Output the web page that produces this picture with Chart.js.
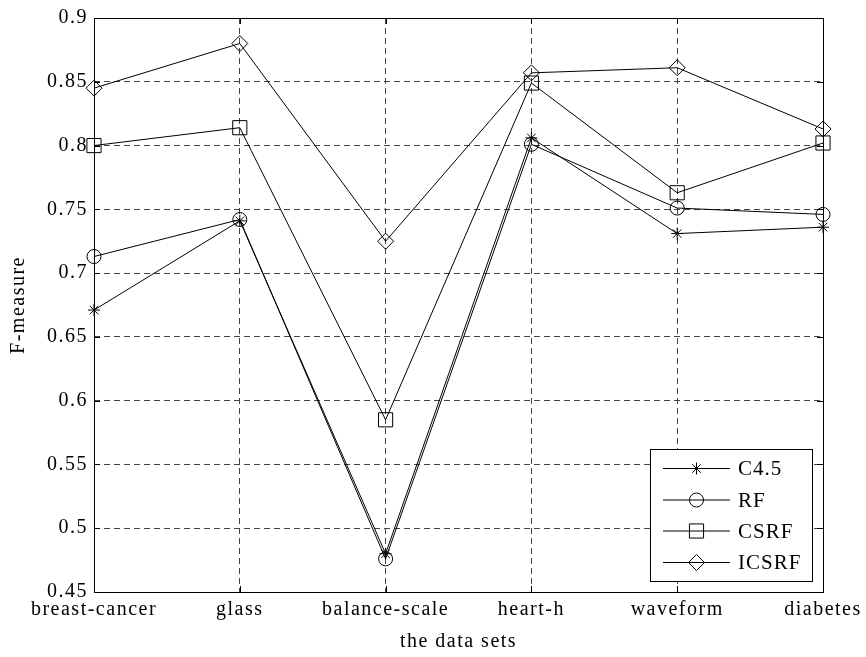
<!DOCTYPE html>
<html>
<head>
<meta charset="utf-8">
<script src="https://cdn.jsdelivr.net/npm/chart.js@4.4.1/dist/chart.umd.min.js"></script>
<style>
  html, body { margin: 0; padding: 0; background: #fff; }
  #wrap { width: 866px; height: 657px; position: relative; }
</style>
</head>
<body>
<div id="wrap"><canvas id="fmChart"></canvas></div>
<script>
const dataSets = ["breast-cancer", "glass", "balance-scale", "heart-h", "waveform", "diabetes"];
const c45 = [0.671, 0.741, 0.480, 0.806, 0.731, 0.736];
const rf = [0.713, 0.742, 0.476, 0.801, 0.751, 0.746];
const csrf = [0.800, 0.814, 0.585, 0.849, 0.763, 0.802];
const icsrf = [0.845, 0.880, 0.725, 0.857, 0.861, 0.813];
const yTicks = [0.45, 0.5, 0.55, 0.6, 0.65, 0.7, 0.75, 0.8, 0.85, 0.9];
const yTickLabels = ["0.45", "0.5", "0.55", "0.6", "0.65", "0.7", "0.75", "0.8", "0.85", "0.9"];

const serif = "'Liberation Serif', 'Times New Roman', serif";
const gridDash = [6, 4];

function series(label, values, style, radius) {
  return {
    label,
    data: values,
    borderColor: "#000",
    borderWidth: 1,
    backgroundColor: "rgba(0,0,0,0)",
    pointStyle: style,
    pointRadius: radius,
    pointBorderColor: "#000",
    pointBackgroundColor: "rgba(0,0,0,0)",
    pointBorderWidth: 1,
    tension: 0
  };
}

// frame, inner ticks and the legend box, matlab style
const matlabFrame = {
  id: "matlabFrame",
  beforeDraw(chart) {
    chart.ctx.letterSpacing = "1.5px";
  },
  afterDatasetsDraw(chart) {
    const { ctx, chartArea: a, scales } = chart;
    ctx.save();
    ctx.letterSpacing = "0px";
    ctx.strokeStyle = "#000";
    ctx.lineWidth = 1;
    ctx.setLineDash([]);
    ctx.strokeRect(Math.round(a.left) + 0.5, Math.round(a.top) + 0.5,
      Math.round(a.right - a.left), Math.round(a.bottom - a.top));

    const t = 6;
    ctx.beginPath();
    scales.y.ticks.forEach((tk, i) => {
      const y = Math.round(scales.y.getPixelForTick(i)) + 0.5;
      ctx.moveTo(a.left, y); ctx.lineTo(a.left + t, y);
      ctx.moveTo(a.right, y); ctx.lineTo(a.right - t, y);
    });
    scales.x.ticks.forEach((tk, i) => {
      const x = Math.round(scales.x.getPixelForTick(i)) + 0.5;
      ctx.moveTo(x, a.bottom); ctx.lineTo(x, a.bottom - t);
      ctx.moveTo(x, a.top); ctx.lineTo(x, a.top + t);
    });
    ctx.stroke();

    // legend box in the lower right corner
    const box = { x: 650.5, y: 449.5, w: 162, h: 132 };
    ctx.fillStyle = "#fff";
    ctx.fillRect(box.x, box.y, box.w, box.h);
    ctx.strokeRect(box.x, box.y, box.w, box.h);
    const rowY = [468.5, 500, 531, 562.5];
    ctx.font = "21px " + serif;
    ctx.textBaseline = "middle";
    ctx.letterSpacing = "1px";
    chart.data.datasets.forEach((ds, i) => {
      const y = rowY[i];
      ctx.beginPath();
      ctx.moveTo(663, y); ctx.lineTo(730, y);
      ctx.stroke();
      ctx.fillStyle = "rgba(0,0,0,0)";
      Chart.helpers.drawPoint(ctx, {
        pointStyle: ds.pointStyle, radius: ds.pointRadius, borderWidth: 1, rotation: 0
      }, 696.5, y);
      ctx.fillStyle = "#000";
      ctx.fillText(ds.label, 738, y + 1);
    });
    ctx.restore();
  }
};

new Chart(document.getElementById("fmChart"), {
  type: "line",
  data: {
    labels: dataSets,
    datasets: [
      series("C4.5", c45, "star", 6),
      series("RF", rf, "circle", 7),
      series("CSRF", csrf, "rect", 10),
      series("ICSRF", icsrf, "rectRot", 8)
    ]
  },
  options: {
    responsive: true,
    maintainAspectRatio: false,
    animation: false,
    layout: { padding: { top: 17, right: 43, left: 0, bottom: 0 } },
    plugins: { legend: { display: false }, tooltip: { enabled: false } },
    scales: {
      x: {
        type: "category",
        offset: false,
        grid: { color: "#444", lineWidth: 1, drawTicks: false, offset: false },
        border: { display: false, dash: gridDash },
        ticks: { color: "#000", font: { family: serif, size: 20 }, padding: 6, maxRotation: 0, autoSkip: false },
        title: { display: true, text: "the data sets", color: "#000", font: { family: serif, size: 20 }, padding: { top: 0, bottom: 3 } },
        afterFit(scale) { scale.height = 65; }
      },
      y: {
        min: 0.45,
        max: 0.9,
        afterBuildTicks(scale) { scale.ticks = yTicks.map(v => ({ value: v })); },
        grid: { color: "#444", lineWidth: 1, drawTicks: false },
        border: { display: false, dash: gridDash },
        ticks: {
          color: "#000", font: { family: serif, size: 20 }, padding: 6,
          callback: (v, i) => yTickLabels[i]
        },
        title: { display: true, text: "F-measure", color: "#000", font: { family: serif, size: 20 }, padding: { top: 7, bottom: 0 } },
        afterFit(scale) { scale.width = 94; }
      }
    }
  },
  plugins: [matlabFrame]
});
</script>
</body>
</html>
